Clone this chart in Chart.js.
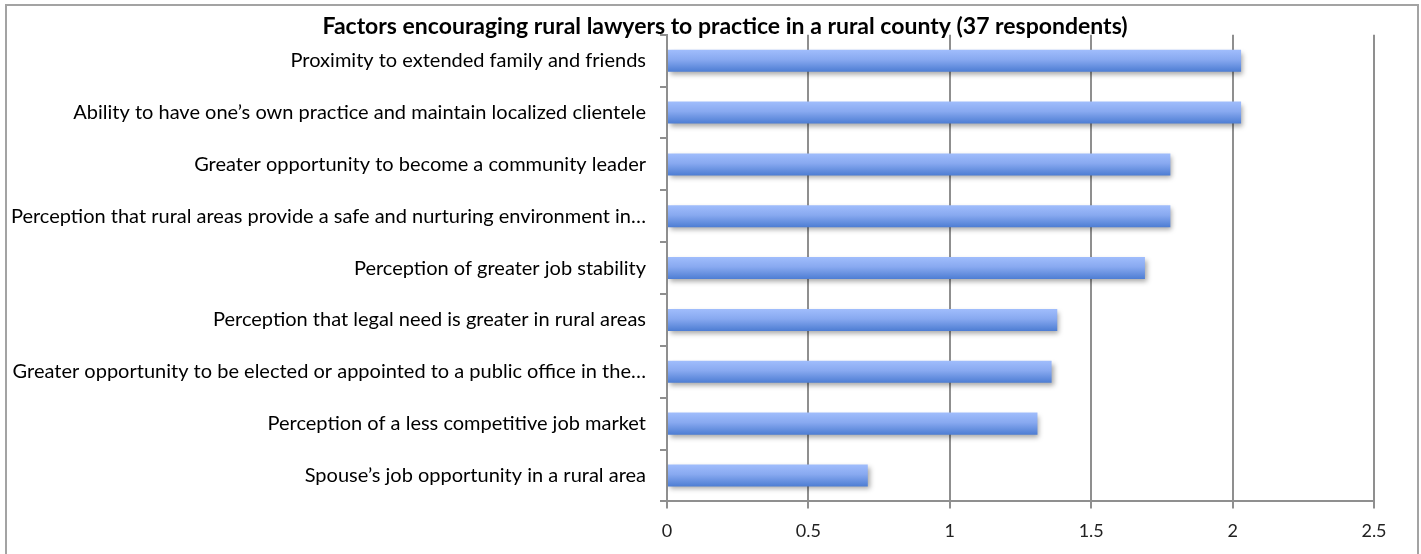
<!DOCTYPE html>
<html>
<head>
<meta charset="utf-8">
<script src="https://cdn.jsdelivr.net/npm/chart.js@4.4.1/dist/chart.umd.min.js"></script>
<style>
  html, body { margin: 0; padding: 0; background: #fff; }
  #wrap { position: relative; width: 1421px; height: 554px; overflow: hidden; }
  #frame { position: absolute; left: 5px; top: 4px; width: 1410px; height: 600px; border: 2px solid #a3a3a3; pointer-events: none; }
  canvas { position: absolute; left: 0; top: 0; }
</style>
</head>
<body>
<div id="wrap">
  <canvas id="c" width="1421" height="554"></canvas>
  <div id="frame"></div>
</div>
<script>
const chartTitle = "Factors encouraging rural lawyers to practice in a rural county (37 respondents)";
const categories = [
  "Proximity to extended family and friends",
  "Ability to have one\u2019s own practice and maintain localized clientele",
  "Greater opportunity to become a community leader",
  "Perception that rural areas provide a safe and nurturing environment in\u2026",
  "Perception of greater job stability",
  "Perception that legal need is greater in rural areas",
  "Greater opportunity to be elected or appointed to a public office in the\u2026",
  "Perception of a less competitive job market",
  "Spouse\u2019s job opportunity in a rural area"
];
const values = [2.03, 2.03, 1.78, 1.78, 1.69, 1.38, 1.36, 1.31, 0.71];
const xTicks = [0, 0.5, 1, 1.5, 2, 2.5];

const FONT = "Lato";

function barGradient(ctx) {
  const chart = ctx.chart;
  const y = chart.scales && chart.scales.y;
  if (!y || !chart.chartArea || ctx.dataIndex === undefined) return '#7397e6';
  const yc = y.getPixelForValue(ctx.dataIndex);
  const half = 11;
  const g = chart.ctx.createLinearGradient(0, yc - half, 0, yc + half);
  g.addColorStop(0, '#a0bdfc');
  g.addColorStop(0.45, '#88a9f0');
  g.addColorStop(1, '#4d7dd3');
  return g;
}

const shadowPlugin = {
  id: 'barShadow',
  beforeDatasetsDraw(chart) {
    const c = chart.ctx;
    c.save();
    c.shadowColor = 'rgba(0,0,0,0.35)';
    c.shadowBlur = 5;
    c.shadowOffsetX = 2;
    c.shadowOffsetY = 3;
  },
  afterDatasetsDraw(chart) {
    chart.ctx.restore();
  }
};

// centre the title on the whole chart object (as in the original), not on the padded area
const titleShiftPlugin = {
  id: 'titleShift',
  afterLayout(chart) {
    const t = chart.titleBlock;
    if (t) { t.left += 33; t.right += 33; }
  }
};

new Chart(document.getElementById('c'), {
  type: 'bar',
  data: {
    labels: categories,
    datasets: [{
      data: values,
      backgroundColor: barGradient,
      borderWidth: 0,
      barPercentage: 1,
      categoryPercentage: 0.425
    }]
  },
  options: {
    indexAxis: 'y',
    responsive: false,
    animation: false,
    devicePixelRatio: 1,
    layout: { padding: { left: 10, right: 47, top: 6, bottom: 0 } },
    plugins: {
      legend: { display: false },
      tooltip: { enabled: false },
      title: {
        display: true,
        text: chartTitle,
        color: '#000',
        font: { family: FONT, size: 23, weight: 'bold', lineHeight: 0.73 },
        padding: { top: 12, bottom: 0 }
      }
    },
    scales: {
      x: {
        min: 0,
        max: 2.5,
        afterBuildTicks(scale) { scale.ticks = xTicks.map(v => ({ value: v })); },
        ticks: {
          color: '#222',
          font: { family: FONT, size: 18 },
          padding: 12,
          maxRotation: 0,
          callback: (v) => String(v)
        },
        grid: { color: '#8f8f8f', lineWidth: 2, tickLength: 7, drawTicks: true },
        border: { color: '#8f8f8f', width: 2 }
      },
      y: {
        afterFit(scale) { scale.width = 657; },
        ticks: {
          color: '#000',
          font: { family: FONT, size: 20 },
          padding: 14,
          autoSkip: false
        },
        grid: { display: true, drawOnChartArea: false, color: '#8f8f8f', lineWidth: 2, tickLength: 7, offset: true },
        border: { color: '#8f8f8f', width: 2 }
      }
    }
  },
  plugins: [shadowPlugin, titleShiftPlugin]
});
</script>
</body>
</html>
